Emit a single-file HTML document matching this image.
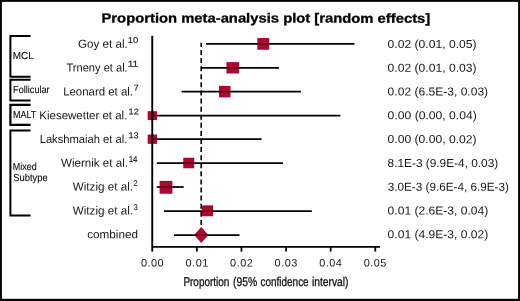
<!DOCTYPE html>
<html><head><meta charset="utf-8"><title>Proportion meta-analysis plot</title>
<style>
html,body{margin:0;padding:0;background:#fff;}
body{width:520px;height:301px;overflow:hidden;}
svg{display:block;font-family:"Liberation Sans",Arial,Helvetica,sans-serif;text-rendering:geometricPrecision;}
</style></head><body>
<svg width="520" height="301" viewBox="0 0 520 301">
<rect x="0" y="0" width="520" height="301" fill="#fff"/>
<rect x="0" y="0" width="520" height="1.85" fill="#000"/><rect x="0" y="0" width="1.9" height="301" fill="#000"/><rect x="518.1" y="0" width="1.9" height="301" fill="#000"/><rect x="0" y="298.8" width="520" height="2.2" fill="#000"/>
<text x="101.51" y="22.50" font-size="13.2px" font-weight="bold" fill="#000" textLength="328.72" lengthAdjust="spacingAndGlyphs" transform="rotate(0.03 101.51 22.50)" stroke="#000" stroke-width="0.3">Proportion meta-analysis plot [random effects]</text>
<path d="M30.6 36.1 H10.4 V76.8 H30.6" fill="none" stroke="#000" stroke-width="2"/>
<path d="M30.6 79.8 H10.4 V100.6 H30.6" fill="none" stroke="#000" stroke-width="2"/>
<path d="M30.6 104.8 H10.4 V124.8 H30.6" fill="none" stroke="#000" stroke-width="2.2"/>
<path d="M30.6 130.45 H10.4 V215.5 H30.6" fill="none" stroke="#000" stroke-width="2"/>
<text x="12.79" y="59.00" font-size="10.2px" fill="#0a0a0a" textLength="20.94" lengthAdjust="spacingAndGlyphs" stroke="#0a0a0a" stroke-width="0.1">MCL</text>
<text x="13.05" y="93.30" font-size="10.2px" fill="#0a0a0a" textLength="36.60" lengthAdjust="spacingAndGlyphs" stroke="#0a0a0a" stroke-width="0.1">Follicular</text>
<text x="12.88" y="117.90" font-size="10.2px" fill="#0a0a0a" textLength="23.42" lengthAdjust="spacingAndGlyphs" stroke="#0a0a0a" stroke-width="0.1">MALT</text>
<text x="12.86" y="169.80" font-size="10.2px" fill="#0a0a0a" textLength="23.91" lengthAdjust="spacingAndGlyphs" stroke="#0a0a0a" stroke-width="0.1">Mixed</text>
<text x="13.17" y="181.20" font-size="10.2px" fill="#0a0a0a" textLength="34.55" lengthAdjust="spacingAndGlyphs" stroke="#0a0a0a" stroke-width="0.1">Subtype</text>
<line x1="201.2" y1="42.7" x2="201.2" y2="235" stroke="#000" stroke-width="1.6" stroke-dasharray="5 3.09" stroke-dashoffset="0.79"/>
<line x1="206.05" y1="43.9" x2="354.40" y2="43.9" stroke="#000" stroke-width="1.75"/>
<rect x="257.30" y="38.05" width="11.9" height="11.7" fill="#ac0632"/>
<line x1="257.30" y1="43.9" x2="269.20" y2="43.9" stroke="#45000f" stroke-width="1.6" opacity="0.85"/>
<text x="387.63" y="47.90" font-size="11.6px" fill="#151515" textLength="88.92" lengthAdjust="spacingAndGlyphs" transform="rotate(0.03 387.63 47.90)">0.02 (0.01, 0.05)</text>
<line x1="201.05" y1="67.8" x2="278.90" y2="67.8" stroke="#000" stroke-width="1.75"/>
<rect x="226.45" y="62.10" width="12.6" height="11.4" fill="#ac0632"/>
<line x1="226.45" y1="67.8" x2="239.05" y2="67.8" stroke="#45000f" stroke-width="1.6" opacity="0.85"/>
<text x="387.63" y="71.70" font-size="11.6px" fill="#151515" textLength="88.92" lengthAdjust="spacingAndGlyphs" transform="rotate(0.03 387.63 71.70)">0.02 (0.01, 0.03)</text>
<line x1="181.70" y1="91.65" x2="300.90" y2="91.65" stroke="#000" stroke-width="1.75"/>
<rect x="219.00" y="85.90" width="11.5" height="11.5" fill="#ac0632"/>
<line x1="219.00" y1="91.65" x2="230.50" y2="91.65" stroke="#45000f" stroke-width="1.6" opacity="0.85"/>
<text x="387.63" y="95.50" font-size="11.6px" fill="#151515" textLength="100.52" lengthAdjust="spacingAndGlyphs" transform="rotate(0.03 387.63 95.50)">0.02 (6.5E-3, 0.03)</text>
<line x1="152.30" y1="115.6" x2="340.40" y2="115.6" stroke="#000" stroke-width="1.75"/>
<rect x="147.70" y="111.15" width="9.3" height="8.9" fill="#ac0632"/>
<line x1="152.50" y1="115.6" x2="157.00" y2="115.6" stroke="#45000f" stroke-width="1.6" opacity="0.85"/>
<text x="387.63" y="119.30" font-size="11.6px" fill="#151515" textLength="89.13" lengthAdjust="spacingAndGlyphs" transform="rotate(0.03 387.63 119.30)">0.00 (0.00, 0.04)</text>
<line x1="152.30" y1="139.2" x2="261.60" y2="139.2" stroke="#000" stroke-width="1.75"/>
<rect x="147.65" y="134.55" width="9.4" height="9.3" fill="#ac0632"/>
<line x1="152.50" y1="139.2" x2="157.05" y2="139.2" stroke="#45000f" stroke-width="1.6" opacity="0.85"/>
<text x="387.63" y="143.10" font-size="11.6px" fill="#151515" textLength="88.92" lengthAdjust="spacingAndGlyphs" transform="rotate(0.03 387.63 143.10)">0.00 (0.00, 0.02)</text>
<line x1="156.80" y1="163.0" x2="282.90" y2="163.0" stroke="#000" stroke-width="1.75"/>
<rect x="183.25" y="157.75" width="11" height="10.5" fill="#ac0632"/>
<line x1="183.25" y1="163.0" x2="194.25" y2="163.0" stroke="#45000f" stroke-width="1.6" opacity="0.85"/>
<text x="387.59" y="166.90" font-size="11.6px" fill="#151515" textLength="110.65" lengthAdjust="spacingAndGlyphs" transform="rotate(0.03 387.59 166.90)">8.1E-3 (9.9E-4, 0.03)</text>
<line x1="156.80" y1="187.0" x2="183.65" y2="187.0" stroke="#000" stroke-width="1.75"/>
<rect x="159.60" y="180.85" width="12.8" height="12.9" fill="#ac0632"/>
<line x1="159.60" y1="187.0" x2="172.40" y2="187.0" stroke="#45000f" stroke-width="1.6" opacity="0.85"/>
<text x="387.65" y="190.70" font-size="11.6px" fill="#151515" textLength="121.32" lengthAdjust="spacingAndGlyphs" transform="rotate(0.03 387.65 190.70)">3.0E-3 (9.6E-4, 6.9E-3)</text>
<line x1="164.05" y1="211.1" x2="311.80" y2="211.1" stroke="#000" stroke-width="1.75"/>
<rect x="201.90" y="205.35" width="11.2" height="10.9" fill="#ac0632"/>
<line x1="201.90" y1="211.1" x2="213.10" y2="211.1" stroke="#45000f" stroke-width="1.6" opacity="0.85"/>
<text x="387.63" y="214.50" font-size="11.6px" fill="#151515" textLength="100.62" lengthAdjust="spacingAndGlyphs" transform="rotate(0.03 387.63 214.50)">0.01 (2.6E-3, 0.04)</text>
<line x1="174.1" y1="235" x2="239.5" y2="235" stroke="#000" stroke-width="1.75"/>
<path d="M194.2 235 L201.25 226.9 L208.4 235 L201.25 243.1 Z" fill="#ac0632"/>
<line x1="194.2" y1="235" x2="208.4" y2="235" stroke="#45000f" stroke-width="1.6" opacity="0.85"/>
<text x="387.63" y="238.30" font-size="11.6px" fill="#151515" textLength="100.62" lengthAdjust="spacingAndGlyphs" transform="rotate(0.03 387.63 238.30)">0.01 (4.9E-3, 0.02)</text>
<line x1="152.25" y1="35.8" x2="152.25" y2="251.6" stroke="#000" stroke-width="1.9"/>
<line x1="152.25" y1="246.85" x2="380.0" y2="246.85" stroke="#000" stroke-width="1.9"/>
<line x1="196.86" y1="246.8" x2="196.86" y2="251.6" stroke="#000" stroke-width="1.8"/>
<line x1="241.47" y1="246.8" x2="241.47" y2="251.6" stroke="#000" stroke-width="1.8"/>
<line x1="286.08" y1="246.8" x2="286.08" y2="251.6" stroke="#000" stroke-width="1.8"/>
<line x1="330.69" y1="246.8" x2="330.69" y2="251.6" stroke="#000" stroke-width="1.8"/>
<line x1="375.30" y1="246.8" x2="375.30" y2="251.6" stroke="#000" stroke-width="1.8"/>
<text x="140.97" y="266.50" font-size="10.9px" fill="#222" textLength="22.65" lengthAdjust="spacing" transform="rotate(0.03 140.97 266.50)">0.00</text>
<text x="185.52" y="266.50" font-size="10.9px" fill="#222" textLength="22.76" lengthAdjust="spacing" transform="rotate(0.03 185.52 266.50)">0.01</text>
<text x="230.07" y="266.50" font-size="10.9px" fill="#222" textLength="22.77" lengthAdjust="spacing" transform="rotate(0.03 230.07 266.50)">0.02</text>
<text x="274.62" y="266.50" font-size="10.9px" fill="#222" textLength="22.70" lengthAdjust="spacing" transform="rotate(0.03 274.62 266.50)">0.03</text>
<text x="319.17" y="266.50" font-size="10.9px" fill="#222" textLength="22.55" lengthAdjust="spacing" transform="rotate(0.03 319.17 266.50)">0.04</text>
<text x="363.72" y="266.50" font-size="10.9px" fill="#222" textLength="22.68" lengthAdjust="spacing" transform="rotate(0.03 363.72 266.50)">0.05</text>
<text x="183.38" y="286.20" font-size="12.7px" fill="#111" textLength="45.96" lengthAdjust="spacingAndGlyphs" transform="rotate(0.03 183.38 286.20)" stroke="#111" stroke-width="0.3">Proportion</text>
<text x="232.96" y="286.20" font-size="12.7px" fill="#111" textLength="24.21" lengthAdjust="spacingAndGlyphs" transform="rotate(0.03 232.96 286.20)" stroke="#111" stroke-width="0.3">(95%</text>
<text x="260.58" y="286.20" font-size="12.7px" fill="#111" textLength="48.06" lengthAdjust="spacingAndGlyphs" transform="rotate(0.03 260.58 286.20)" stroke="#111" stroke-width="0.3">confidence</text>
<text x="312.01" y="286.20" font-size="12.7px" fill="#111" textLength="36.52" lengthAdjust="spacingAndGlyphs" transform="rotate(0.03 312.01 286.20)" stroke="#111" stroke-width="0.3">interval)</text>
<text x="77.91" y="47.80" font-size="11.6px" fill="#151515" textLength="49.85" lengthAdjust="spacingAndGlyphs" transform="rotate(0.03 77.91 47.80)">Goy et al.</text>
<text x="127.67" y="43.05" font-size="8.5px" fill="#151515" textLength="10.60" lengthAdjust="spacingAndGlyphs" transform="rotate(0.03 127.67 43.05)" stroke="#151515" stroke-width="0.12">10</text>
<text x="66.45" y="71.60" font-size="11.6px" fill="#151515" textLength="61.25" lengthAdjust="spacingAndGlyphs" transform="rotate(0.03 66.45 71.60)">Trneny et al.</text>
<text x="127.67" y="66.85" font-size="8.5px" fill="#151515" textLength="10.70" lengthAdjust="spacingAndGlyphs" transform="rotate(0.03 127.67 66.85)" stroke="#151515" stroke-width="0.12">11</text>
<text x="63.16" y="95.40" font-size="11.6px" fill="#151515" textLength="69.78" lengthAdjust="spacingAndGlyphs" transform="rotate(0.03 63.16 95.40)">Leonard et al.</text>
<text x="133.85" y="90.65" font-size="8.5px" fill="#151515" textLength="4.89" lengthAdjust="spacingAndGlyphs" transform="rotate(0.03 133.85 90.65)" stroke="#151515" stroke-width="0.12">7</text>
<text x="39.36" y="119.20" font-size="11.6px" fill="#151515" textLength="87.99" lengthAdjust="spacingAndGlyphs" transform="rotate(0.03 39.36 119.20)">Kiesewetter et al.</text>
<text x="128.50" y="114.45" font-size="8.5px" fill="#151515" textLength="10.27" lengthAdjust="spacingAndGlyphs" transform="rotate(0.03 128.50 114.45)" stroke="#151515" stroke-width="0.12">12</text>
<text x="39.68" y="143.00" font-size="11.6px" fill="#151515" textLength="87.64" lengthAdjust="spacingAndGlyphs" transform="rotate(0.03 39.68 143.00)">Lakshmaiah et al.</text>
<text x="128.50" y="138.25" font-size="8.5px" fill="#151515" textLength="10.20" lengthAdjust="spacingAndGlyphs" transform="rotate(0.03 128.50 138.25)" stroke="#151515" stroke-width="0.12">13</text>
<text x="60.95" y="166.80" font-size="11.6px" fill="#151515" textLength="67.11" lengthAdjust="spacingAndGlyphs" transform="rotate(0.03 60.95 166.80)">Wiernik et al.</text>
<text x="128.69" y="162.05" font-size="8.5px" fill="#151515" textLength="8.84" lengthAdjust="spacingAndGlyphs" transform="rotate(0.03 128.69 162.05)" stroke="#151515" stroke-width="0.12">14</text>
<text x="72.75" y="190.60" font-size="11.6px" fill="#151515" textLength="60.22" lengthAdjust="spacingAndGlyphs" transform="rotate(0.03 72.75 190.60)">Witzig et al.</text>
<text x="133.52" y="185.85" font-size="8.5px" fill="#151515" textLength="4.15" lengthAdjust="spacingAndGlyphs" transform="rotate(0.03 133.52 185.85)" stroke="#151515" stroke-width="0.12">2</text>
<text x="72.75" y="214.40" font-size="11.6px" fill="#151515" textLength="60.22" lengthAdjust="spacingAndGlyphs" transform="rotate(0.03 72.75 214.40)">Witzig et al.</text>
<text x="133.63" y="209.65" font-size="8.5px" fill="#151515" textLength="3.99" lengthAdjust="spacingAndGlyphs" transform="rotate(0.03 133.63 209.65)" stroke="#151515" stroke-width="0.12">3</text>
<text x="87.20" y="238.20" font-size="11.6px" fill="#151515" textLength="50.85" lengthAdjust="spacingAndGlyphs" transform="rotate(0.03 87.20 238.20)">combined</text>
</svg></body></html>
